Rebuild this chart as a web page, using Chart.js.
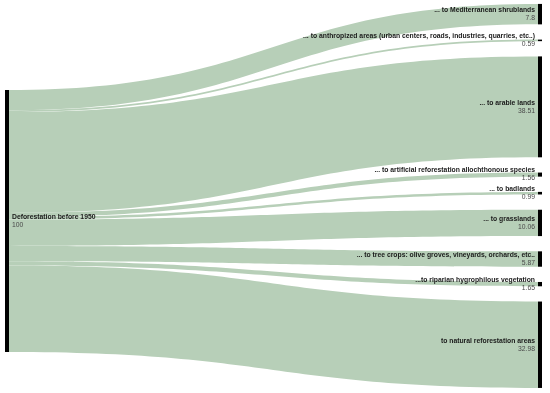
<!DOCTYPE html>
<html>
<head>
<meta charset="utf-8">
<script src="https://cdn.jsdelivr.net/npm/chart.js@4.4.1/dist/chart.umd.min.js"></script>
<style>
  html, body { margin: 0; padding: 0; background: #fff; }
  canvas { display: block; }
</style>
</head>
<body>
<canvas id="sankeyChart" width="550" height="393"></canvas>
<script>
// ==================== DATA ====================
const sourceLabel = 'Deforestation before 1950';
const sourceValue = 100;

const targetLabels = [
  '... to Mediterranean shrublands',
  '... to anthropized areas (urban centers, roads, industries, quarries, etc..)',
  '... to arable lands',
  '... to artificial reforestation allochthonous species',
  '... to badlands',
  '... to grasslands',
  '... to tree crops: olive groves, vineyards, orchards, etc..',
  '...to riparian hygrophilous vegetation',
  'to natural reforestation areas'
];

const flowValues = [7.8, 0.59, 38.51, 1.56, 0.99, 10.06, 5.87, 1.65, 32.98];

// ==================== LAYOUT (value units on the y scale) ====================
const LEFT_TOP = 34.35;   // where the source node starts
const RIGHT_TOP = 1.5;    // where the first target node starts
const NODE_GAP = 5.82;    // gap between target nodes
const NODE_W = 4;         // px
const LINK_COLOR = 'rgb(183, 207, 184)';
const NAME_FONT = 'bold 6.8px "Liberation Sans", Arial, sans-serif';
const VALUE_FONT = '6.8px "Liberation Sans", Arial, sans-serif';

const sankeyPlugin = {
  id: 'sankey',
  beforeDatasetsDraw(chart) {
    const { ctx, scales: { x, y } } = chart;
    const leftX = x.getPixelForValue(0);
    const rightX = x.getPixelForValue(1);
    const xa = leftX + NODE_W, xb = rightX - NODE_W, xm = (xa + xb) / 2;

    // target node positions
    const targets = [];
    let cursor = RIGHT_TOP;
    flowValues.forEach(v => {
      targets.push({ top: cursor, bottom: cursor + v });
      cursor += v + NODE_GAP;
    });

    // links
    ctx.save();
    ctx.fillStyle = LINK_COLOR;
    let src = LEFT_TOP;
    flowValues.forEach((v, i) => {
      const y0a = y.getPixelForValue(src), y0b = y.getPixelForValue(src + v);
      const y1a = y.getPixelForValue(targets[i].top), y1b = y.getPixelForValue(targets[i].bottom);
      ctx.beginPath();
      ctx.moveTo(xa, y0a);
      ctx.bezierCurveTo(xm, y0a, xm, y1a, xb, y1a);
      ctx.lineTo(xb, y1b);
      ctx.bezierCurveTo(xm, y1b, xm, y0b, xa, y0b);
      ctx.closePath();
      ctx.fill();
      src += v;
    });

    // nodes
    ctx.fillStyle = '#000';
    const sTop = y.getPixelForValue(LEFT_TOP), sBot = y.getPixelForValue(LEFT_TOP + sourceValue);
    ctx.fillRect(leftX, sTop, NODE_W, sBot - sTop);
    targets.forEach(t => {
      const a = y.getPixelForValue(t.top), b = y.getPixelForValue(t.bottom);
      ctx.fillRect(rightX - NODE_W, a, NODE_W, Math.max(b - a, 1.5));
    });

    // labels
    ctx.textBaseline = 'middle';
    const sMid = (sTop + sBot) / 2;
    ctx.textAlign = 'left';
    ctx.font = NAME_FONT;
    ctx.fillStyle = '#1a1a1a';
    ctx.fillText(sourceLabel, xa + 3, sMid - 4);
    ctx.font = VALUE_FONT;
    ctx.fillStyle = '#4a4a4a';
    ctx.fillText(String(sourceValue), xa + 3, sMid + 4);

    ctx.textAlign = 'right';
    targets.forEach((t, i) => {
      const mid = (y.getPixelForValue(t.top) + y.getPixelForValue(t.bottom)) / 2;
      ctx.font = NAME_FONT;
      ctx.fillStyle = '#1a1a1a';
      ctx.fillText(targetLabels[i], xb - 3, mid - 4);
      ctx.font = VALUE_FONT;
      ctx.fillStyle = '#4a4a4a';
      ctx.fillText(String(flowValues[i]), xb - 3, mid + 4);
    });
    ctx.restore();
  }
};

function initSankey() {
  const ctx = document.getElementById('sankeyChart').getContext('2d');
  new Chart(ctx, {
    type: 'scatter',
    data: { datasets: [{ data: [] }] },
    options: {
      responsive: false,
      devicePixelRatio: 1,
      animation: false,
      layout: { padding: { left: 5, right: 8, top: 0, bottom: 0 } },
      plugins: { legend: { display: false }, tooltip: { enabled: false } },
      scales: {
        x: { type: 'linear', min: 0, max: 1, display: false },
        y: { type: 'linear', min: 0, max: 150, reverse: true, display: false }
      }
    },
    plugins: [sankeyPlugin]
  });
}

initSankey();
</script>
</body>
</html>
